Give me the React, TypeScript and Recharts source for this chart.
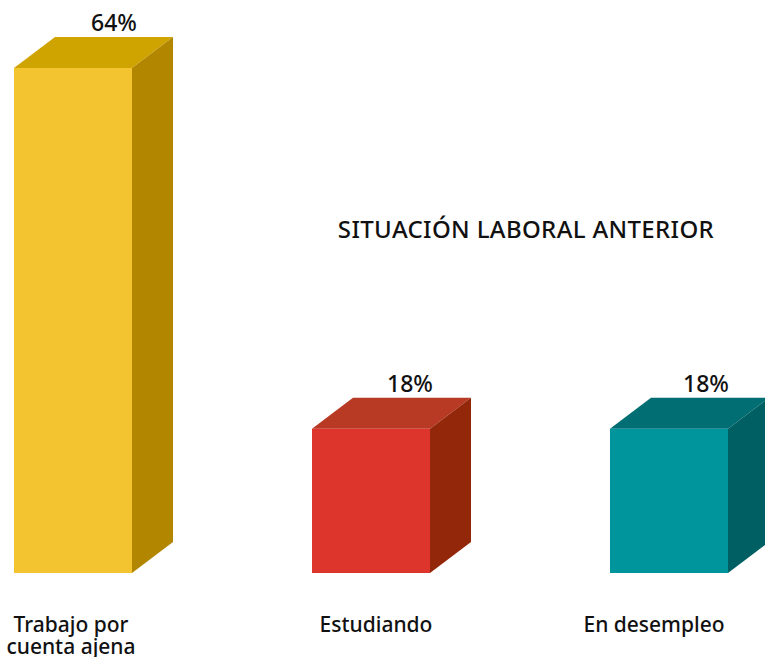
import { BarChart, Bar, XAxis, YAxis, LabelList } from 'recharts';

const categories = ['Trabajo por cuenta ajena', 'Estudiando', 'En desempleo'];
const shares = [63.64, 18.18, 18.18];
const frontColors = ['#F4C430', '#DD352C', '#00959C'];
const topColors = ['#D0A400', '#B83A24', '#006E72'];
const sideColors = ['#B38600', '#92270A', '#005F63'];

const data = categories.map((name, i) => ({ name, share: shares[i] }));

const FONT = '"Noto Sans", sans-serif';
const DEPTH_X = 41;
const DEPTH_Y = 31;
// the original labels are not quite centred under / over their bars
const tickNudge = [-2, 5, -15];
const valueNudge = [41, 39, 37];

function Box3D(props: any) {
  const { x, y, width, height, index } = props;
  const r = x + width;
  const b = y + height;
  return (
    <g>
      <polygon
        points={`${x},${y} ${x + DEPTH_X},${y - DEPTH_Y} ${r + DEPTH_X},${y - DEPTH_Y} ${r},${y}`}
        fill={topColors[index]}
      />
      <polygon
        points={`${r},${y} ${r + DEPTH_X},${y - DEPTH_Y} ${r + DEPTH_X},${b - DEPTH_Y} ${r},${b}`}
        fill={sideColors[index]}
      />
      <rect x={x} y={y} width={width} height={height} fill={frontColors[index]} />
    </g>
  );
}

function CategoryTick(props: any) {
  const { x, payload, index } = props;
  const cx = x + tickNudge[index];
  const words = String(payload.value).split(' ');
  const lines = index === 0 ? [words.slice(0, 2).join(' '), words.slice(2).join(' ')] : [payload.value];
  return (
    <text textAnchor="middle" fontFamily={FONT} fontSize={21} fontWeight={500} fill="#111">
      {lines.map((line: string, i: number) => (
        <tspan key={i} x={cx} y={632 + i * 22}>
          {line}
        </tspan>
      ))}
    </text>
  );
}

function ValueLabel(props: any) {
  const { x, y, width, value, index } = props;
  return (
    <text
      x={x + width / 2 + valueNudge[index]}
      y={y - DEPTH_Y - 6}
      textAnchor="middle"
      fontFamily={FONT}
      fontSize={23}
      fontWeight={500}
      fill="#111"
    >
      {Math.round(value)}%
    </text>
  );
}

export default function App() {
  return (
    <div style={{ position: 'absolute', left: 0, top: 0 }}>
      <BarChart
        width={765}
        height={657}
        data={data}
        barSize={118}
        margin={{ top: 17.5, right: -53, bottom: 0, left: -76 }}
      >
        <XAxis
          dataKey="name"
          axisLine={false}
          tickLine={false}
          height={84}
          interval={0}
          tick={<CategoryTick />}
        />
        <YAxis hide domain={[0, 70]} />
        <Bar dataKey="share" shape={<Box3D />} isAnimationActive={false}>
          <LabelList dataKey="share" content={<ValueLabel />} />
        </Bar>
        <text
          x={526}
          y={238}
          textAnchor="middle"
          fontFamily={FONT}
          fontSize={24}
          fontWeight={500}
          letterSpacing={0.35}
          fill="#111"
        >
          SITUACIÓN LABORAL ANTERIOR
        </text>
      </BarChart>
    </div>
  );
}
